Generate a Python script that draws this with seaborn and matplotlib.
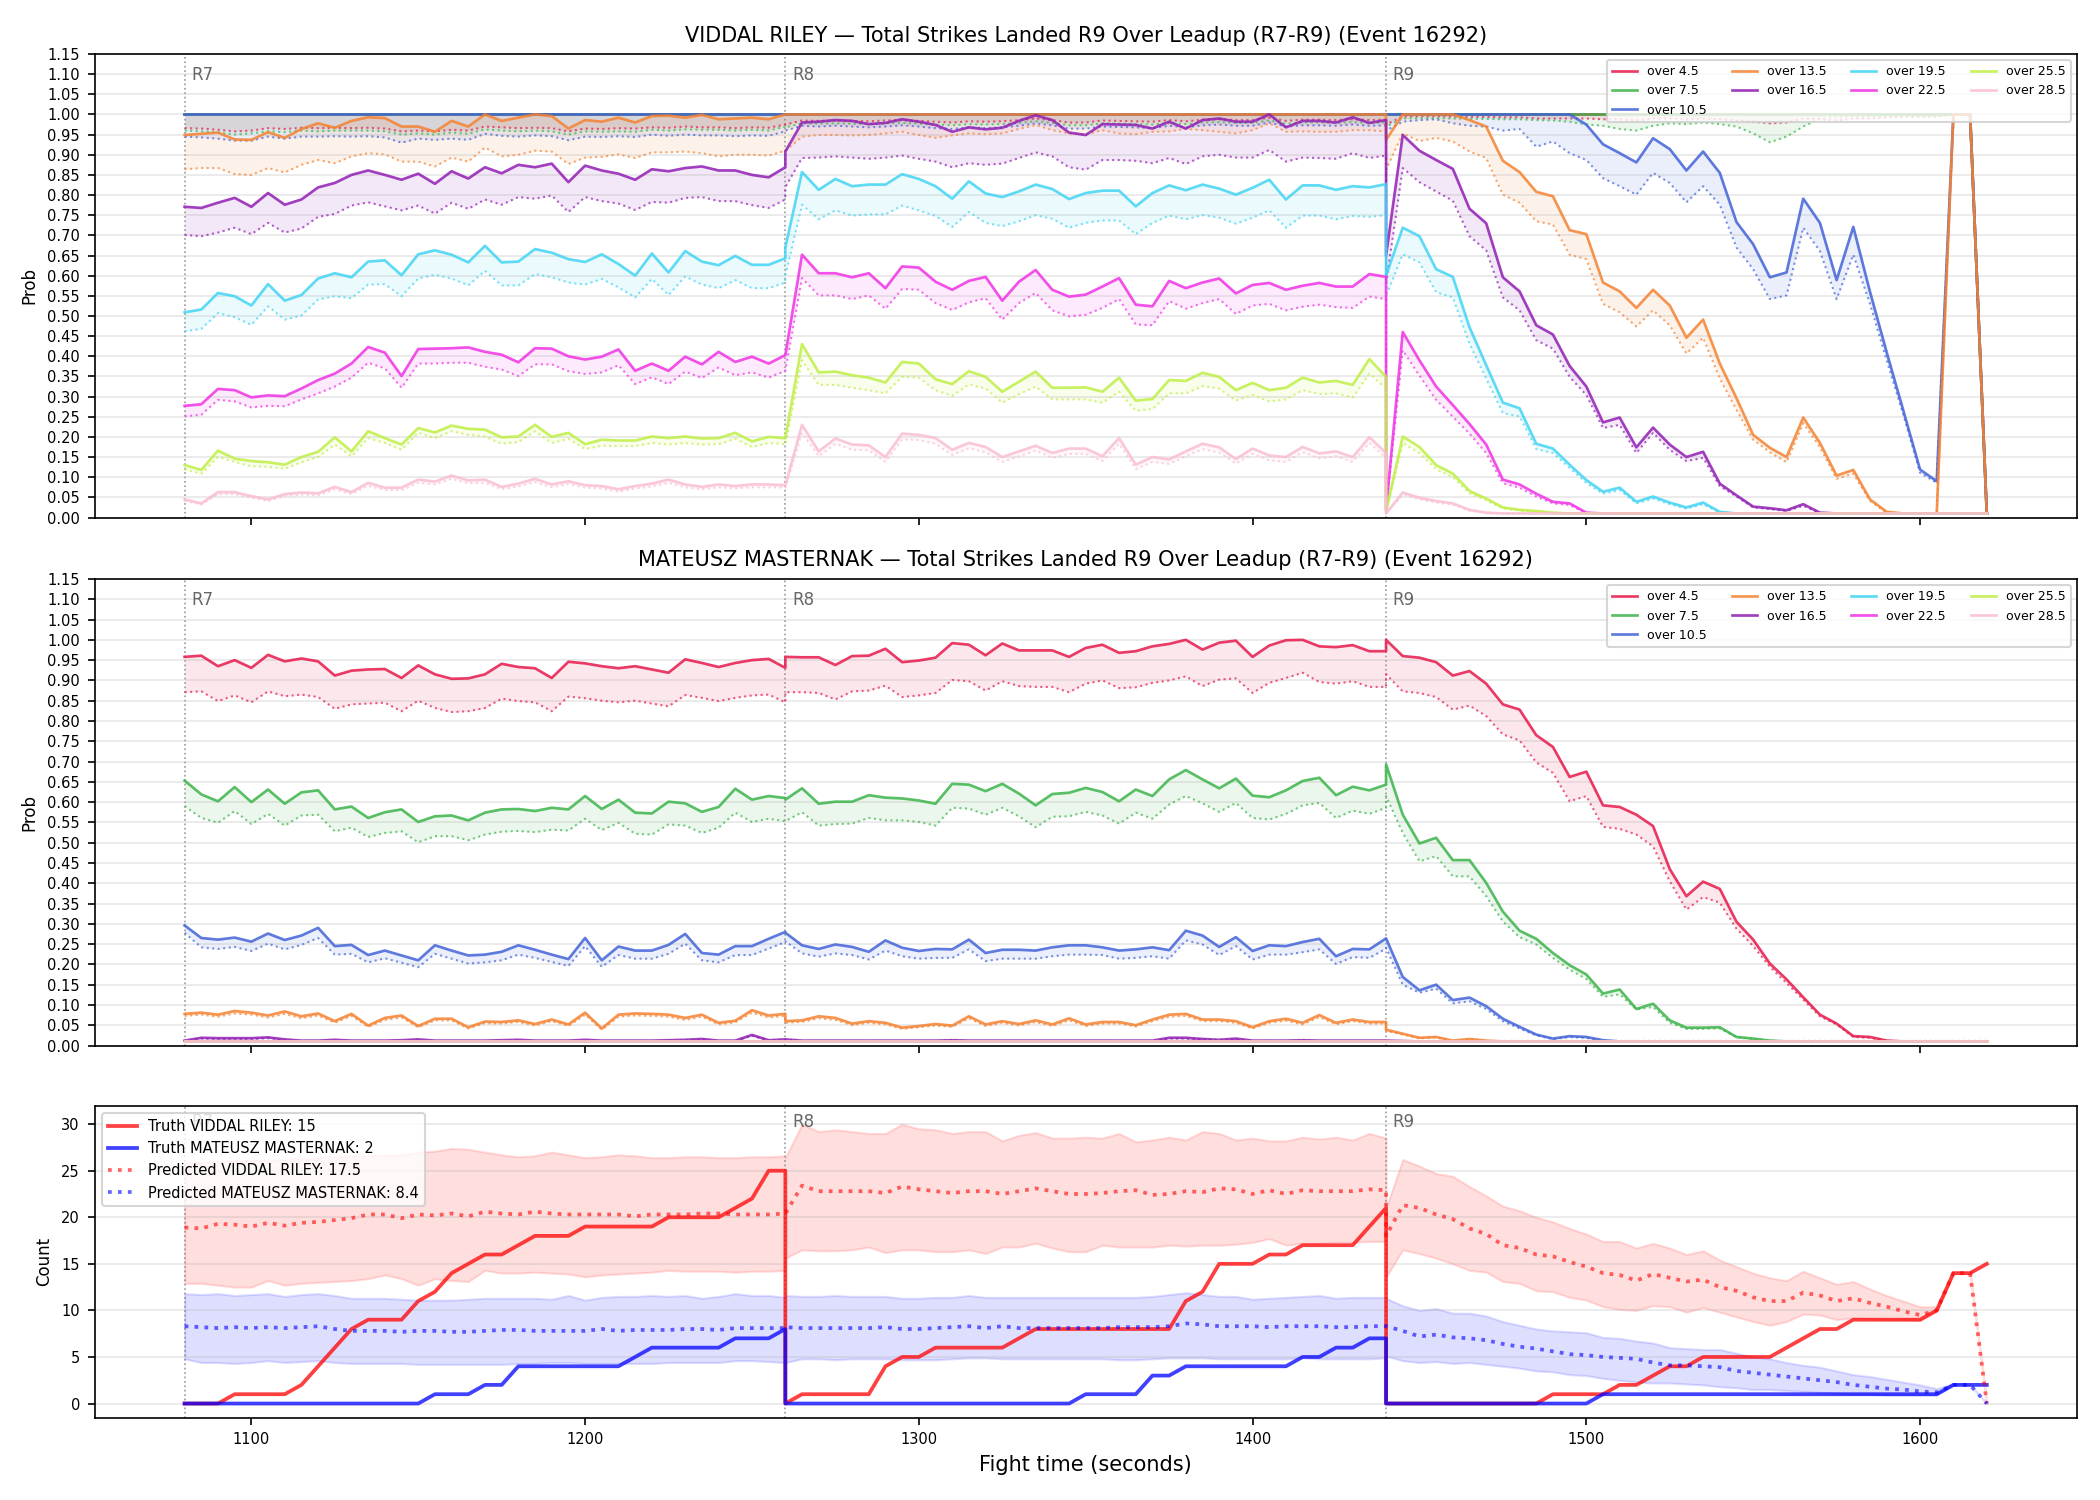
import matplotlib
matplotlib.use('Agg')
import numpy as np
import matplotlib.pyplot as plt
import matplotlib.transforms as mtransforms
import seaborn as sns

# time axis: rounds 7-9, a reading every 5 s of the round clock
rounds = [7, 8, 9]
round_clock = list(range(0, 181, 5))
fight_time = [(r - 1) * 180 + c for r in rounds for c in round_clock]

thresholds = ['over 4.5', 'over 7.5', 'over 10.5', 'over 13.5', 'over 16.5',
              'over 19.5', 'over 22.5', 'over 25.5', 'over 28.5']
line_colors = ['#e6194b', '#3cb44b', '#4363d8', '#f58231', '#911eb4',
               '#42d4f4', '#f032e6', '#bfef45', '#fabed4']

# ---------------- VIDDAL RILEY: solid = market, dotted = model ----------------
riley_45 = [1.0] * 37 + [1.0] * 37 + [1.0] * 36 + [0.01]
riley_45_dot = [
    0.966, 0.965, 0.962, 0.958, 0.960, 0.966, 0.964, 0.967, 0.966, 0.967, 0.966, 0.967, 0.965, 0.958, 0.960, 0.958, 0.962, 0.960, 0.970,
    0.968, 0.966, 0.967, 0.966, 0.958, 0.965, 0.964, 0.966, 0.965, 0.968, 0.967, 0.970, 0.968, 0.968, 0.966, 0.968, 0.967, 0.975,
    0.975, 0.985, 0.984, 0.985, 0.984, 0.983, 0.985, 0.986, 0.984, 0.982, 0.980, 0.983, 0.982, 0.983, 0.986, 0.990, 0.986, 0.980, 0.980,
    0.985, 0.984, 0.983, 0.982, 0.986, 0.983, 0.987, 0.988, 0.986, 0.986, 0.992, 0.984, 0.987, 0.987, 0.986, 0.988, 0.986, 0.987,
    0.975, 0.995, 0.996, 0.996, 0.995, 0.994, 0.994, 0.993, 0.993, 0.990, 0.990, 0.990, 0.990, 0.988, 0.988, 0.985, 0.990, 0.990, 0.988,
    0.990, 0.988, 0.985, 0.982, 0.978, 0.980, 0.990, 0.988, 0.985, 0.990, 0.990, 0.992, 0.995, 0.995, 0.995, 1.0, 1.0, 0.01]
riley_75 = [1.0] * 37 + [1.0] * 37 + [1.0] * 36 + [0.01]
riley_75_dot = [
    0.960, 0.958, 0.955, 0.950, 0.953, 0.958, 0.956, 0.960, 0.958, 0.960, 0.960, 0.960, 0.958, 0.950, 0.953, 0.950, 0.955, 0.952, 0.963,
    0.960, 0.958, 0.960, 0.958, 0.950, 0.958, 0.957, 0.958, 0.957, 0.962, 0.960, 0.963, 0.962, 0.962, 0.960, 0.962, 0.960, 0.970,
    0.968, 0.978, 0.977, 0.978, 0.977, 0.976, 0.978, 0.979, 0.977, 0.975, 0.973, 0.976, 0.975, 0.976, 0.979, 0.983, 0.979, 0.973, 0.973,
    0.978, 0.977, 0.976, 0.975, 0.979, 0.976, 0.980, 0.981, 0.979, 0.979, 0.985, 0.977, 0.980, 0.980, 0.979, 0.981, 0.979, 0.980,
    0.970, 0.990, 0.991, 0.991, 0.990, 0.989, 0.989, 0.988, 0.988, 0.986, 0.985, 0.982, 0.975, 0.972, 0.964, 0.960, 0.972, 0.978, 0.976,
    0.980, 0.976, 0.970, 0.953, 0.931, 0.945, 0.970, 0.990, 0.995, 0.995, 0.995, 0.995, 0.995, 0.995, 0.995, 1.0, 1.0, 0.01]
riley_105 = [1.0] * 37 + [1.0] * 37 + [
    1.0, 1.0, 1.0, 1.0, 1.0, 1.0, 1.0, 1.0, 1.0, 1.0, 1.0, 1.0, 0.975, 0.926, 0.904, 0.881, 0.941, 0.914, 0.861,
    0.908, 0.855, 0.733, 0.678, 0.596, 0.608, 0.791, 0.731, 0.589, 0.721, 0.560, 0.410, 0.265, 0.119, 0.090, 1.0, 1.0, 0.01]
riley_105_dot = [
    0.945, 0.943, 0.940, 0.935, 0.935, 0.945, 0.940, 0.945, 0.945, 0.946, 0.945, 0.946, 0.943, 0.930, 0.940, 0.937, 0.940, 0.937, 0.952,
    0.947, 0.945, 0.948, 0.946, 0.936, 0.945, 0.944, 0.946, 0.944, 0.950, 0.947, 0.950, 0.948, 0.948, 0.946, 0.948, 0.947, 0.958,
    0.960, 0.972, 0.970, 0.972, 0.970, 0.968, 0.970, 0.973, 0.970, 0.966, 0.964, 0.968, 0.966, 0.968, 0.972, 0.978, 0.973, 0.965, 0.965,
    0.970, 0.969, 0.968, 0.966, 0.972, 0.968, 0.973, 0.975, 0.972, 0.972, 0.980, 0.970, 0.973, 0.973, 0.972, 0.975, 0.972, 0.973,
    0.960, 0.982, 0.986, 0.988, 0.978, 0.972, 0.970, 0.960, 0.964, 0.920, 0.933, 0.904, 0.887, 0.842, 0.822, 0.801, 0.855, 0.830, 0.782,
    0.822, 0.776, 0.670, 0.616, 0.542, 0.551, 0.719, 0.661, 0.542, 0.652, 0.530, 0.390, 0.255, 0.111, 0.086, 1.0, 1.0, 0.01]
riley_135 = [
    0.949, 0.952, 0.955, 0.938, 0.937, 0.956, 0.942, 0.964, 0.978, 0.967, 0.984, 0.993, 0.991, 0.970, 0.970, 0.957, 0.984, 0.970, 1.0,
    0.984, 0.992, 1.0, 0.996, 0.965, 0.986, 0.982, 0.992, 0.980, 0.996, 0.997, 0.992, 0.999, 0.988, 0.990, 0.992, 0.988, 1.0] + [1.0] * 37 + [
    0.937, 1.0, 1.0, 1.0, 1.0, 0.986, 0.970, 0.885, 0.857, 0.808, 0.797, 0.713, 0.703, 0.583, 0.561, 0.520, 0.565, 0.526, 0.446,
    0.491, 0.382, 0.296, 0.205, 0.173, 0.150, 0.248, 0.185, 0.104, 0.118, 0.045, 0.014, 0.010, 0.010, 0.010, 1.0, 1.0, 0.01]
riley_135_dot = [
    0.864, 0.867, 0.867, 0.852, 0.850, 0.867, 0.856, 0.875, 0.887, 0.879, 0.896, 0.904, 0.901, 0.883, 0.883, 0.871, 0.893, 0.883, 0.918,
    0.896, 0.900, 0.910, 0.908, 0.877, 0.893, 0.895, 0.901, 0.892, 0.906, 0.906, 0.908, 0.904, 0.896, 0.900, 0.900, 0.898, 0.910,
    0.910, 0.945, 0.949, 0.949, 0.948, 0.949, 0.953, 0.957, 0.949, 0.942, 0.948, 0.953, 0.951, 0.953, 0.964, 0.974, 0.961, 0.953, 0.951,
    0.961, 0.953, 0.951, 0.957, 0.958, 0.964, 0.961, 0.957, 0.953, 0.961, 0.978, 0.957, 0.958, 0.957, 0.957, 0.961, 0.961, 0.958,
    0.863, 0.953, 0.934, 0.942, 0.933, 0.908, 0.892, 0.801, 0.781, 0.735, 0.727, 0.652, 0.641, 0.530, 0.509, 0.474, 0.514, 0.477, 0.407,
    0.446, 0.345, 0.267, 0.193, 0.162, 0.137, 0.234, 0.174, 0.096, 0.109, 0.041, 0.012, 0.010, 0.010, 0.010, 1.0, 1.0, 0.01]
riley_165 = [
    0.771, 0.768, 0.781, 0.793, 0.771, 0.805, 0.776, 0.789, 0.819, 0.830, 0.850, 0.861, 0.850, 0.838, 0.853, 0.828, 0.859, 0.841, 0.869,
    0.854, 0.875, 0.869, 0.878, 0.832, 0.873, 0.861, 0.853, 0.838, 0.864, 0.859, 0.867, 0.871, 0.861, 0.861, 0.850, 0.844, 0.869,
    0.908, 0.980, 0.982, 0.986, 0.984, 0.976, 0.979, 0.988, 0.982, 0.974, 0.957, 0.968, 0.963, 0.967, 0.984, 0.998, 0.986, 0.955, 0.949,
    0.976, 0.975, 0.974, 0.965, 0.982, 0.965, 0.986, 0.990, 0.982, 0.982, 1.0, 0.968, 0.984, 0.984, 0.980, 0.993, 0.979, 0.986,
    0.650, 0.949, 0.910, 0.887, 0.865, 0.766, 0.730, 0.596, 0.561, 0.477, 0.454, 0.376, 0.325, 0.236, 0.248, 0.174, 0.223, 0.181, 0.150,
    0.163, 0.084, 0.055, 0.027, 0.023, 0.018, 0.033, 0.012, 0.010, 0.010, 0.010, 0.010, 0.010, 0.010, 0.010, 0.010, 0.010, 0.010]
riley_165_dot = [
    0.701, 0.698, 0.707, 0.719, 0.703, 0.731, 0.707, 0.717, 0.746, 0.753, 0.774, 0.782, 0.772, 0.762, 0.774, 0.754, 0.781, 0.766, 0.789,
    0.776, 0.795, 0.791, 0.799, 0.758, 0.795, 0.785, 0.779, 0.763, 0.783, 0.781, 0.793, 0.795, 0.785, 0.785, 0.775, 0.768, 0.789,
    0.820, 0.892, 0.893, 0.896, 0.893, 0.890, 0.893, 0.898, 0.890, 0.883, 0.869, 0.879, 0.875, 0.878, 0.892, 0.906, 0.896, 0.869, 0.863,
    0.887, 0.887, 0.885, 0.879, 0.892, 0.877, 0.896, 0.900, 0.893, 0.893, 0.912, 0.883, 0.893, 0.892, 0.890, 0.904, 0.892, 0.898,
    0.580, 0.867, 0.832, 0.809, 0.786, 0.698, 0.663, 0.546, 0.514, 0.440, 0.419, 0.349, 0.304, 0.222, 0.230, 0.160, 0.210, 0.168, 0.140,
    0.148, 0.078, 0.052, 0.025, 0.021, 0.016, 0.029, 0.011, 0.010, 0.010, 0.010, 0.010, 0.010, 0.010, 0.010, 0.010, 0.010, 0.010]
riley_195 = [
    0.509, 0.516, 0.557, 0.549, 0.526, 0.579, 0.538, 0.552, 0.593, 0.606, 0.596, 0.635, 0.638, 0.601, 0.653, 0.663, 0.652, 0.633, 0.674,
    0.633, 0.635, 0.666, 0.657, 0.641, 0.634, 0.653, 0.629, 0.600, 0.655, 0.608, 0.661, 0.635, 0.626, 0.649, 0.627, 0.627, 0.643,
    0.670, 0.857, 0.813, 0.840, 0.822, 0.826, 0.826, 0.852, 0.840, 0.822, 0.791, 0.834, 0.804, 0.795, 0.809, 0.826, 0.815, 0.790, 0.805,
    0.811, 0.811, 0.772, 0.805, 0.824, 0.812, 0.826, 0.816, 0.801, 0.818, 0.838, 0.789, 0.824, 0.824, 0.813, 0.822, 0.819, 0.827,
    0.600, 0.719, 0.698, 0.616, 0.597, 0.472, 0.378, 0.285, 0.271, 0.183, 0.171, 0.131, 0.093, 0.064, 0.074, 0.039, 0.052, 0.037, 0.025,
    0.037, 0.014, 0.010, 0.010, 0.010, 0.010, 0.010, 0.010, 0.010, 0.010, 0.010, 0.010, 0.010, 0.010, 0.010, 0.010, 0.010, 0.010]
riley_195_dot = [
    0.462, 0.468, 0.507, 0.497, 0.478, 0.524, 0.491, 0.501, 0.541, 0.549, 0.544, 0.578, 0.579, 0.549, 0.593, 0.602, 0.593, 0.576, 0.612,
    0.576, 0.576, 0.604, 0.596, 0.583, 0.578, 0.592, 0.571, 0.546, 0.592, 0.552, 0.598, 0.578, 0.569, 0.589, 0.569, 0.569, 0.583,
    0.600, 0.776, 0.740, 0.762, 0.749, 0.752, 0.752, 0.774, 0.762, 0.748, 0.721, 0.758, 0.731, 0.723, 0.735, 0.750, 0.741, 0.719, 0.731,
    0.737, 0.737, 0.703, 0.731, 0.749, 0.740, 0.750, 0.744, 0.729, 0.744, 0.762, 0.719, 0.749, 0.749, 0.740, 0.748, 0.746, 0.750,
    0.550, 0.653, 0.633, 0.559, 0.546, 0.431, 0.345, 0.259, 0.251, 0.170, 0.160, 0.123, 0.086, 0.059, 0.068, 0.035, 0.047, 0.033, 0.022,
    0.033, 0.012, 0.010, 0.010, 0.010, 0.010, 0.010, 0.010, 0.010, 0.010, 0.010, 0.010, 0.010, 0.010, 0.010, 0.010, 0.010, 0.010]
riley_225 = [
    0.277, 0.281, 0.319, 0.316, 0.298, 0.303, 0.301, 0.320, 0.341, 0.357, 0.382, 0.423, 0.409, 0.351, 0.418, 0.419, 0.420, 0.422, 0.411,
    0.404, 0.385, 0.420, 0.419, 0.400, 0.392, 0.399, 0.417, 0.364, 0.382, 0.364, 0.399, 0.380, 0.411, 0.386, 0.399, 0.382, 0.403,
    0.403, 0.652, 0.606, 0.606, 0.596, 0.606, 0.569, 0.623, 0.620, 0.585, 0.565, 0.587, 0.597, 0.538, 0.585, 0.614, 0.565, 0.548, 0.553,
    0.573, 0.594, 0.528, 0.524, 0.587, 0.569, 0.583, 0.593, 0.556, 0.577, 0.582, 0.565, 0.575, 0.582, 0.573, 0.573, 0.604, 0.597,
    0.020, 0.460, 0.390, 0.325, 0.279, 0.232, 0.181, 0.094, 0.082, 0.059, 0.039, 0.035, 0.012, 0.010, 0.010, 0.010, 0.010, 0.010, 0.010,
    0.010, 0.010, 0.010, 0.010, 0.010, 0.010, 0.010, 0.010, 0.010, 0.010, 0.010, 0.010, 0.010, 0.010, 0.010, 0.010, 0.010, 0.010]
riley_225_dot = [
    0.251, 0.255, 0.292, 0.288, 0.273, 0.277, 0.276, 0.293, 0.308, 0.325, 0.347, 0.384, 0.370, 0.322, 0.382, 0.382, 0.384, 0.384, 0.374,
    0.367, 0.351, 0.380, 0.380, 0.363, 0.356, 0.360, 0.378, 0.331, 0.348, 0.331, 0.362, 0.346, 0.372, 0.353, 0.360, 0.347, 0.364,
    0.364, 0.594, 0.551, 0.551, 0.542, 0.551, 0.518, 0.567, 0.565, 0.532, 0.515, 0.534, 0.544, 0.491, 0.532, 0.557, 0.514, 0.499, 0.503,
    0.520, 0.542, 0.479, 0.477, 0.537, 0.518, 0.532, 0.542, 0.505, 0.526, 0.530, 0.514, 0.523, 0.528, 0.522, 0.520, 0.548, 0.542,
    0.018, 0.415, 0.352, 0.292, 0.250, 0.208, 0.160, 0.085, 0.074, 0.052, 0.035, 0.031, 0.011, 0.010, 0.010, 0.010, 0.010, 0.010, 0.010,
    0.010, 0.010, 0.010, 0.010, 0.010, 0.010, 0.010, 0.010, 0.010, 0.010, 0.010, 0.010, 0.010, 0.010, 0.010, 0.010, 0.010, 0.010]
riley_255 = [
    0.130, 0.118, 0.166, 0.146, 0.140, 0.137, 0.131, 0.150, 0.163, 0.199, 0.164, 0.214, 0.197, 0.181, 0.222, 0.211, 0.228, 0.220, 0.218,
    0.199, 0.201, 0.230, 0.200, 0.210, 0.182, 0.193, 0.191, 0.191, 0.201, 0.197, 0.201, 0.196, 0.197, 0.210, 0.189, 0.200, 0.197,
    0.197, 0.430, 0.360, 0.362, 0.353, 0.347, 0.335, 0.386, 0.382, 0.343, 0.331, 0.363, 0.349, 0.312, 0.337, 0.362, 0.322, 0.322, 0.323,
    0.312, 0.347, 0.290, 0.294, 0.341, 0.339, 0.359, 0.349, 0.316, 0.334, 0.316, 0.322, 0.347, 0.335, 0.339, 0.329, 0.393, 0.349,
    0.015, 0.201, 0.175, 0.130, 0.109, 0.066, 0.047, 0.025, 0.019, 0.016, 0.012, 0.010, 0.010, 0.010, 0.010, 0.010, 0.010, 0.010, 0.010,
    0.010, 0.010, 0.010, 0.010, 0.010, 0.010, 0.010, 0.010, 0.010, 0.010, 0.010, 0.010, 0.010, 0.010, 0.010, 0.010, 0.010, 0.010]
riley_255_dot = [
    0.119, 0.109, 0.150, 0.138, 0.127, 0.126, 0.121, 0.137, 0.150, 0.181, 0.152, 0.197, 0.185, 0.168, 0.210, 0.197, 0.214, 0.205, 0.201,
    0.183, 0.187, 0.214, 0.185, 0.195, 0.170, 0.178, 0.177, 0.177, 0.185, 0.181, 0.185, 0.181, 0.182, 0.195, 0.175, 0.185, 0.182,
    0.181, 0.390, 0.329, 0.329, 0.322, 0.316, 0.308, 0.349, 0.347, 0.316, 0.302, 0.330, 0.320, 0.285, 0.306, 0.325, 0.293, 0.293, 0.293,
    0.285, 0.312, 0.265, 0.269, 0.308, 0.308, 0.326, 0.320, 0.290, 0.304, 0.288, 0.293, 0.316, 0.306, 0.308, 0.298, 0.357, 0.320,
    0.013, 0.185, 0.160, 0.120, 0.100, 0.060, 0.043, 0.022, 0.017, 0.014, 0.011, 0.010, 0.010, 0.010, 0.010, 0.010, 0.010, 0.010, 0.010,
    0.010, 0.010, 0.010, 0.010, 0.010, 0.010, 0.010, 0.010, 0.010, 0.010, 0.010, 0.010, 0.010, 0.010, 0.010, 0.010, 0.010, 0.010]
riley_285 = [
    0.045, 0.035, 0.063, 0.063, 0.053, 0.045, 0.058, 0.062, 0.060, 0.076, 0.063, 0.086, 0.074, 0.074, 0.094, 0.089, 0.104, 0.092, 0.094,
    0.076, 0.084, 0.096, 0.082, 0.090, 0.080, 0.078, 0.070, 0.078, 0.084, 0.094, 0.082, 0.076, 0.082, 0.078, 0.082, 0.082, 0.080,
    0.080, 0.230, 0.164, 0.196, 0.181, 0.179, 0.150, 0.208, 0.205, 0.197, 0.168, 0.185, 0.175, 0.150, 0.164, 0.178, 0.160, 0.171, 0.171,
    0.152, 0.197, 0.131, 0.150, 0.144, 0.164, 0.183, 0.174, 0.145, 0.171, 0.154, 0.150, 0.175, 0.159, 0.164, 0.150, 0.199, 0.160,
    0.010, 0.062, 0.049, 0.041, 0.035, 0.019, 0.012, 0.010, 0.010, 0.010, 0.010, 0.010, 0.010, 0.010, 0.010, 0.010, 0.010, 0.010, 0.010,
    0.010, 0.010, 0.010, 0.010, 0.010, 0.010, 0.010, 0.010, 0.010, 0.010, 0.010, 0.010, 0.010, 0.010, 0.010, 0.010, 0.010, 0.010]
riley_285_dot = [
    0.041, 0.032, 0.058, 0.058, 0.049, 0.041, 0.053, 0.057, 0.055, 0.070, 0.058, 0.079, 0.068, 0.068, 0.086, 0.082, 0.096, 0.085, 0.086,
    0.070, 0.077, 0.088, 0.075, 0.083, 0.074, 0.072, 0.064, 0.072, 0.077, 0.086, 0.075, 0.070, 0.075, 0.072, 0.075, 0.075, 0.074,
    0.074, 0.210, 0.152, 0.183, 0.168, 0.167, 0.138, 0.194, 0.192, 0.183, 0.155, 0.172, 0.162, 0.138, 0.152, 0.166, 0.148, 0.158, 0.158,
    0.140, 0.183, 0.120, 0.138, 0.133, 0.152, 0.170, 0.161, 0.134, 0.158, 0.142, 0.138, 0.162, 0.147, 0.152, 0.138, 0.185, 0.148,
    0.010, 0.057, 0.045, 0.037, 0.032, 0.017, 0.011, 0.010, 0.010, 0.010, 0.010, 0.010, 0.010, 0.010, 0.010, 0.010, 0.010, 0.010, 0.010,
    0.010, 0.010, 0.010, 0.010, 0.010, 0.010, 0.010, 0.010, 0.010, 0.010, 0.010, 0.010, 0.010, 0.010, 0.010, 0.010, 0.010, 0.010]

# ---------------- MATEUSZ MASTERNAK ----------------
mast_45 = [
    0.958, 0.961, 0.935, 0.950, 0.931, 0.963, 0.947, 0.954, 0.947, 0.912, 0.924, 0.927, 0.928, 0.906, 0.937, 0.915, 0.904, 0.905, 0.915,
    0.941, 0.933, 0.930, 0.906, 0.946, 0.942, 0.935, 0.930, 0.935, 0.927, 0.919, 0.952, 0.943, 0.933, 0.943, 0.950, 0.953, 0.931,
    0.958, 0.957, 0.957, 0.938, 0.960, 0.961, 0.978, 0.945, 0.949, 0.956, 0.992, 0.988, 0.962, 0.991, 0.974, 0.974, 0.974, 0.958, 0.980,
    0.988, 0.968, 0.972, 0.984, 0.990, 1.0, 0.976, 0.993, 0.998, 0.958, 0.986, 0.999, 1.0, 0.984, 0.982, 0.987, 0.972, 0.972,
    1.0, 0.960, 0.956, 0.945, 0.912, 0.923, 0.892, 0.841, 0.828, 0.765, 0.736, 0.662, 0.675, 0.592, 0.588, 0.569, 0.541, 0.435, 0.368,
    0.404, 0.386, 0.305, 0.261, 0.202, 0.163, 0.119, 0.076, 0.054, 0.023, 0.021, 0.012, 0.010, 0.010, 0.010, 0.010, 0.010, 0.010]
mast_45_dot = [
    0.871, 0.873, 0.849, 0.863, 0.846, 0.873, 0.861, 0.865, 0.859, 0.830, 0.841, 0.843, 0.845, 0.824, 0.850, 0.832, 0.822, 0.824, 0.832,
    0.855, 0.849, 0.846, 0.824, 0.860, 0.856, 0.850, 0.846, 0.850, 0.843, 0.836, 0.864, 0.857, 0.849, 0.857, 0.863, 0.865, 0.846,
    0.871, 0.871, 0.869, 0.853, 0.873, 0.875, 0.887, 0.859, 0.863, 0.869, 0.901, 0.898, 0.875, 0.898, 0.886, 0.884, 0.884, 0.871, 0.892,
    0.900, 0.881, 0.883, 0.894, 0.900, 0.910, 0.886, 0.902, 0.905, 0.869, 0.894, 0.906, 0.919, 0.896, 0.892, 0.898, 0.884, 0.884,
    0.915, 0.873, 0.869, 0.859, 0.828, 0.838, 0.812, 0.767, 0.752, 0.698, 0.672, 0.602, 0.615, 0.539, 0.534, 0.520, 0.491, 0.405, 0.335,
    0.366, 0.352, 0.288, 0.245, 0.194, 0.154, 0.113, 0.072, 0.052, 0.021, 0.019, 0.012, 0.010, 0.010, 0.010, 0.010, 0.010, 0.010]
mast_75 = [
    0.653, 0.619, 0.602, 0.637, 0.600, 0.631, 0.596, 0.624, 0.629, 0.582, 0.589, 0.561, 0.575, 0.582, 0.551, 0.565, 0.567, 0.555, 0.574,
    0.582, 0.583, 0.578, 0.586, 0.582, 0.615, 0.583, 0.606, 0.574, 0.572, 0.601, 0.597, 0.576, 0.588, 0.633, 0.606, 0.615, 0.610,
    0.606, 0.634, 0.596, 0.601, 0.601, 0.617, 0.611, 0.609, 0.604, 0.596, 0.645, 0.643, 0.627, 0.645, 0.621, 0.592, 0.620, 0.623, 0.635,
    0.625, 0.602, 0.631, 0.615, 0.656, 0.679, 0.656, 0.634, 0.658, 0.616, 0.612, 0.629, 0.652, 0.660, 0.617, 0.638, 0.629, 0.643,
    0.693, 0.569, 0.498, 0.512, 0.457, 0.457, 0.401, 0.330, 0.283, 0.263, 0.228, 0.198, 0.175, 0.128, 0.138, 0.090, 0.103, 0.062, 0.044,
    0.044, 0.045, 0.021, 0.017, 0.012, 0.010, 0.010, 0.010, 0.010, 0.010, 0.010, 0.010, 0.010, 0.010, 0.010, 0.010, 0.010, 0.010]
mast_75_dot = [
    0.590, 0.561, 0.549, 0.578, 0.546, 0.571, 0.542, 0.567, 0.569, 0.528, 0.537, 0.514, 0.524, 0.528, 0.501, 0.516, 0.516, 0.506, 0.520,
    0.527, 0.529, 0.526, 0.532, 0.530, 0.559, 0.531, 0.549, 0.522, 0.520, 0.545, 0.542, 0.524, 0.537, 0.574, 0.551, 0.559, 0.553,
    0.553, 0.575, 0.542, 0.546, 0.547, 0.561, 0.555, 0.555, 0.551, 0.542, 0.586, 0.584, 0.569, 0.586, 0.565, 0.538, 0.564, 0.565, 0.576,
    0.567, 0.547, 0.574, 0.559, 0.594, 0.615, 0.597, 0.576, 0.598, 0.561, 0.557, 0.571, 0.592, 0.598, 0.561, 0.579, 0.571, 0.586,
    0.615, 0.524, 0.454, 0.467, 0.417, 0.417, 0.368, 0.306, 0.267, 0.249, 0.216, 0.187, 0.164, 0.120, 0.126, 0.089, 0.095, 0.056, 0.041,
    0.041, 0.042, 0.021, 0.016, 0.012, 0.010, 0.010, 0.010, 0.010, 0.010, 0.010, 0.010, 0.010, 0.010, 0.010, 0.010, 0.010, 0.010]
mast_105 = [
    0.296, 0.265, 0.261, 0.266, 0.256, 0.276, 0.260, 0.271, 0.290, 0.245, 0.248, 0.223, 0.234, 0.222, 0.210, 0.247, 0.234, 0.222, 0.224,
    0.231, 0.247, 0.236, 0.224, 0.213, 0.265, 0.210, 0.244, 0.234, 0.234, 0.248, 0.275, 0.228, 0.224, 0.245, 0.245, 0.263, 0.280,
    0.278, 0.247, 0.238, 0.249, 0.243, 0.231, 0.259, 0.241, 0.233, 0.238, 0.237, 0.261, 0.228, 0.236, 0.236, 0.234, 0.242, 0.247, 0.247,
    0.242, 0.234, 0.237, 0.242, 0.235, 0.283, 0.271, 0.243, 0.267, 0.233, 0.247, 0.245, 0.255, 0.263, 0.220, 0.238, 0.237, 0.264,
    0.264, 0.169, 0.136, 0.150, 0.112, 0.118, 0.097, 0.066, 0.046, 0.027, 0.017, 0.023, 0.021, 0.013, 0.010, 0.010, 0.010, 0.010, 0.010,
    0.010, 0.010, 0.010, 0.010, 0.010, 0.010, 0.010, 0.010, 0.010, 0.010, 0.010, 0.010, 0.010, 0.010, 0.010, 0.010, 0.010, 0.010]
mast_105_dot = [
    0.278, 0.242, 0.238, 0.243, 0.233, 0.251, 0.237, 0.248, 0.265, 0.224, 0.226, 0.205, 0.215, 0.204, 0.193, 0.226, 0.214, 0.202, 0.205,
    0.210, 0.224, 0.216, 0.206, 0.196, 0.245, 0.194, 0.223, 0.214, 0.214, 0.226, 0.251, 0.210, 0.205, 0.223, 0.223, 0.239, 0.255,
    0.257, 0.227, 0.219, 0.227, 0.223, 0.212, 0.234, 0.220, 0.214, 0.216, 0.216, 0.237, 0.208, 0.214, 0.214, 0.214, 0.220, 0.224, 0.224,
    0.223, 0.214, 0.216, 0.220, 0.214, 0.259, 0.249, 0.223, 0.245, 0.212, 0.224, 0.224, 0.230, 0.237, 0.201, 0.218, 0.216, 0.239,
    0.241, 0.150, 0.130, 0.140, 0.104, 0.109, 0.090, 0.060, 0.042, 0.025, 0.016, 0.021, 0.019, 0.012, 0.010, 0.010, 0.010, 0.010, 0.010,
    0.010, 0.010, 0.010, 0.010, 0.010, 0.010, 0.010, 0.010, 0.010, 0.010, 0.010, 0.010, 0.010, 0.010, 0.010, 0.010, 0.010, 0.010]
mast_135 = [
    0.078, 0.081, 0.076, 0.085, 0.081, 0.074, 0.084, 0.072, 0.079, 0.060, 0.078, 0.049, 0.068, 0.074, 0.048, 0.066, 0.066, 0.045, 0.059,
    0.058, 0.062, 0.053, 0.064, 0.052, 0.081, 0.042, 0.076, 0.079, 0.078, 0.076, 0.068, 0.076, 0.056, 0.061, 0.087, 0.074, 0.078,
    0.060, 0.062, 0.072, 0.068, 0.054, 0.060, 0.056, 0.044, 0.048, 0.053, 0.049, 0.072, 0.052, 0.060, 0.053, 0.062, 0.052, 0.067, 0.052,
    0.058, 0.058, 0.050, 0.064, 0.076, 0.078, 0.064, 0.064, 0.060, 0.045, 0.060, 0.066, 0.056, 0.075, 0.056, 0.064, 0.058, 0.058,
    0.039, 0.029, 0.019, 0.021, 0.012, 0.016, 0.012, 0.010, 0.010, 0.010, 0.010, 0.010, 0.010, 0.010, 0.010, 0.010, 0.010, 0.010, 0.010,
    0.010, 0.010, 0.010, 0.010, 0.010, 0.010, 0.010, 0.010, 0.010, 0.010, 0.010, 0.010, 0.010, 0.010, 0.010, 0.010, 0.010, 0.010]
mast_135_dot = [
    0.073, 0.076, 0.071, 0.079, 0.076, 0.069, 0.078, 0.067, 0.074, 0.056, 0.073, 0.046, 0.063, 0.069, 0.045, 0.062, 0.062, 0.042, 0.055,
    0.054, 0.058, 0.049, 0.060, 0.048, 0.076, 0.039, 0.071, 0.074, 0.073, 0.071, 0.063, 0.071, 0.052, 0.057, 0.081, 0.069, 0.073,
    0.056, 0.058, 0.067, 0.063, 0.050, 0.056, 0.052, 0.041, 0.045, 0.049, 0.046, 0.067, 0.048, 0.056, 0.049, 0.058, 0.048, 0.062, 0.048,
    0.054, 0.054, 0.047, 0.060, 0.071, 0.073, 0.060, 0.060, 0.056, 0.042, 0.056, 0.061, 0.052, 0.070, 0.052, 0.060, 0.054, 0.054,
    0.036, 0.027, 0.018, 0.020, 0.011, 0.015, 0.011, 0.010, 0.010, 0.010, 0.010, 0.010, 0.010, 0.010, 0.010, 0.010, 0.010, 0.010, 0.010,
    0.010, 0.010, 0.010, 0.010, 0.010, 0.010, 0.010, 0.010, 0.010, 0.010, 0.010, 0.010, 0.010, 0.010, 0.010, 0.010, 0.010, 0.010]
mast_165 = [
    0.012, 0.019, 0.018, 0.018, 0.018, 0.020, 0.015, 0.012, 0.012, 0.014, 0.012, 0.012, 0.012, 0.013, 0.015, 0.012, 0.012, 0.012, 0.012,
    0.013, 0.014, 0.012, 0.012, 0.012, 0.014, 0.012, 0.012, 0.012, 0.012, 0.013, 0.014, 0.016, 0.012, 0.012, 0.026, 0.013, 0.015,
    0.015, 0.012, 0.012, 0.012, 0.012, 0.012, 0.012, 0.012, 0.012, 0.012, 0.013, 0.012, 0.012, 0.012, 0.012, 0.012, 0.012, 0.012, 0.012,
    0.012, 0.012, 0.012, 0.012, 0.019, 0.019, 0.016, 0.014, 0.017, 0.012, 0.012, 0.012, 0.013, 0.012, 0.012, 0.012, 0.012, 0.012,
    0.012, 0.011, 0.010, 0.010, 0.010, 0.010, 0.010, 0.010, 0.010, 0.010, 0.010, 0.010, 0.010, 0.010, 0.010, 0.010, 0.010, 0.010, 0.010,
    0.010, 0.010, 0.010, 0.010, 0.010, 0.010, 0.010, 0.010, 0.010, 0.010, 0.010, 0.010, 0.010, 0.010, 0.010, 0.010, 0.010, 0.010]
mast_165_dot = [
    0.011, 0.017, 0.016, 0.016, 0.016, 0.018, 0.014, 0.011, 0.011, 0.013, 0.011, 0.011, 0.011, 0.012, 0.014, 0.011, 0.011, 0.011, 0.011,
    0.012, 0.013, 0.011, 0.011, 0.011, 0.013, 0.011, 0.011, 0.011, 0.011, 0.012, 0.013, 0.015, 0.011, 0.011, 0.024, 0.012, 0.014,
    0.014, 0.011, 0.011, 0.011, 0.011, 0.011, 0.011, 0.011, 0.011, 0.011, 0.012, 0.011, 0.011, 0.011, 0.011, 0.011, 0.011, 0.011, 0.011,
    0.011, 0.011, 0.011, 0.011, 0.017, 0.017, 0.015, 0.013, 0.015, 0.011, 0.011, 0.011, 0.012, 0.011, 0.011, 0.011, 0.011, 0.011,
    0.011, 0.010, 0.010, 0.010, 0.010, 0.010, 0.010, 0.010, 0.010, 0.010, 0.010, 0.010, 0.010, 0.010, 0.010, 0.010, 0.010, 0.010, 0.010,
    0.010, 0.010, 0.010, 0.010, 0.010, 0.010, 0.010, 0.010, 0.010, 0.010, 0.010, 0.010, 0.010, 0.010, 0.010, 0.010, 0.010, 0.010]
# the four highest lines sit on the 0.01 floor for the whole leadup
mast_floor = [0.010] * 111

# ---------------- running strike counts ----------------
riley_truth = [
    0, 0, 0, 1, 1, 1, 1, 2, 4, 6, 8, 9, 9, 9, 11, 12, 14, 15, 16, 16, 17, 18, 18, 18, 19, 19, 19, 19, 19, 20, 20, 20, 20, 21, 22, 25, 25,
    0, 1, 1, 1, 1, 1, 4, 5, 5, 6, 6, 6, 6, 6, 7, 8, 8, 8, 8, 8, 8, 8, 8, 8, 11, 12, 15, 15, 15, 16, 16, 17, 17, 17, 17, 19, 21,
    0, 0, 0, 0, 0, 0, 0, 0, 0, 0, 1, 1, 1, 1, 2, 2, 3, 4, 4, 5, 5, 5, 5, 5, 6, 7, 8, 8, 9, 9, 9, 9, 9, 10, 14, 14, 15]
mast_truth = [
    0, 0, 0, 0, 0, 0, 0, 0, 0, 0, 0, 0, 0, 0, 0, 1, 1, 1, 2, 2, 4, 4, 4, 4, 4, 4, 4, 5, 6, 6, 6, 6, 6, 7, 7, 7, 8,
    0, 0, 0, 0, 0, 0, 0, 0, 0, 0, 0, 0, 0, 0, 0, 0, 0, 0, 1, 1, 1, 1, 3, 3, 4, 4, 4, 4, 4, 4, 4, 5, 5, 6, 6, 7, 7,
    0, 0, 0, 0, 0, 0, 0, 0, 0, 0, 0, 0, 0, 1, 1, 1, 1, 1, 1, 1, 1, 1, 1, 1, 1, 1, 1, 1, 1, 1, 1, 1, 1, 1, 2, 2, 2]
riley_pred = [
    18.9, 18.8, 19.3, 19.2, 19.0, 19.4, 19.1, 19.4, 19.5, 19.7, 19.9, 20.3, 20.3, 19.9, 20.3, 20.2, 20.4, 20.1, 20.6,
    20.4, 20.3, 20.6, 20.4, 20.3, 20.3, 20.3, 20.3, 20.1, 20.3, 20.3, 20.3, 20.4, 20.4, 20.3, 20.3, 20.3, 20.4,
    20.4, 23.4, 22.8, 22.8, 22.8, 22.8, 22.6, 23.3, 23.0, 22.8, 22.6, 22.8, 22.8, 22.5, 22.8, 23.1, 22.8, 22.5, 22.5,
    22.6, 22.8, 22.9, 22.4, 22.5, 22.8, 22.7, 23.1, 23.0, 22.5, 22.9, 22.5, 22.9, 22.8, 22.8, 22.8, 23.0, 22.9,
    18.0, 21.3, 21.0, 20.3, 19.8, 18.8, 18.2, 17.0, 16.7, 16.0, 15.8, 15.2, 14.7, 14.0, 13.8, 13.2, 13.9, 13.5, 13.1,
    13.3, 12.5, 12.1, 11.4, 11.0, 11.0, 11.9, 11.6, 11.0, 11.3, 10.8, 10.4, 9.9, 9.5, 10.0, 14.0, 14.0, 0.0]
riley_low = [
    12.9, 12.9, 12.7, 12.5, 12.5, 13.2, 12.7, 12.9, 13.0, 13.1, 13.2, 13.4, 13.8, 13.4, 12.7, 13.4, 13.2, 13.1, 14.3,
    14.0, 14.0, 14.1, 14.0, 13.9, 13.6, 13.8, 13.9, 14.0, 14.1, 14.3, 14.2, 14.2, 14.2, 14.1, 14.2, 14.2, 14.3,
    15.6, 16.5, 16.4, 16.4, 16.5, 16.8, 16.2, 16.5, 16.5, 16.3, 16.3, 16.5, 16.1, 16.8, 16.8, 17.2, 16.7, 16.3, 16.3,
    17.0, 16.8, 16.8, 16.8, 17.0, 16.9, 17.0, 17.0, 17.1, 17.3, 17.7, 17.0, 17.2, 17.2, 17.3, 17.3, 17.4, 17.4,
    13.6, 16.5, 16.1, 15.6, 15.0, 14.3, 14.1, 13.1, 12.9, 12.1, 12.0, 11.4, 11.1, 10.4, 10.1, 10.0, 10.5, 10.4, 9.8,
    10.3, 9.8, 9.3, 8.8, 8.4, 8.8, 9.6, 9.5, 9.0, 9.2, 9.1, 9.0, 9.0, 8.9, 9.9, 14.0, 14.0, 0.0]
riley_high = [
    25.8, 25.9, 26.0, 26.1, 26.1, 26.2, 26.2, 26.3, 26.4, 26.5, 26.6, 26.6, 26.7, 26.7, 27.0, 27.1, 27.4, 27.3, 27.0,
    26.7, 26.5, 26.6, 27.0, 26.7, 26.4, 26.5, 26.7, 26.6, 26.4, 26.4, 26.5, 26.5, 26.4, 26.4, 26.5, 26.5, 26.6,
    26.4, 30.0, 29.2, 29.4, 29.2, 29.0, 29.0, 30.0, 29.5, 29.4, 29.0, 29.2, 29.2, 28.2, 28.8, 29.1, 28.5, 28.5, 28.6,
    28.5, 29.0, 28.1, 28.3, 28.6, 28.3, 29.2, 29.0, 28.3, 28.5, 28.2, 28.2, 28.6, 28.4, 28.6, 28.3, 29.0, 28.5,
    21.0, 26.2, 25.5, 24.7, 24.4, 23.3, 22.3, 21.2, 20.7, 20.0, 19.5, 18.8, 18.2, 17.4, 17.4, 16.7, 17.2, 16.7, 16.0,
    16.4, 15.4, 14.7, 14.0, 13.5, 13.2, 14.2, 13.5, 12.8, 13.1, 12.3, 11.6, 11.0, 10.4, 10.4, 14.0, 14.0, 0.0]
mast_pred = [
    8.3, 8.2, 8.1, 8.2, 8.1, 8.2, 8.1, 8.2, 8.3, 8.0, 7.8, 7.8, 7.8, 7.7, 7.8, 7.8, 7.7, 7.7, 7.8,
    7.9, 7.9, 7.8, 7.8, 7.8, 7.8, 8.0, 7.8, 7.9, 7.9, 7.9, 8.0, 8.0, 7.9, 8.1, 8.1, 8.1, 8.1,
    8.2, 8.1, 8.1, 8.1, 8.1, 8.1, 8.2, 8.0, 8.0, 8.1, 8.2, 8.3, 8.1, 8.3, 8.1, 8.1, 8.1, 8.1, 8.1,
    8.1, 8.2, 8.2, 8.2, 8.3, 8.6, 8.5, 8.3, 8.3, 8.3, 8.2, 8.3, 8.3, 8.3, 8.2, 8.2, 8.3, 8.3,
    8.3, 7.8, 7.2, 7.4, 7.1, 7.0, 6.8, 6.4, 6.1, 5.9, 5.6, 5.3, 5.2, 5.0, 4.9, 4.8, 4.4, 4.1, 4.1,
    4.0, 3.9, 3.5, 3.3, 3.1, 2.9, 2.7, 2.5, 2.3, 2.0, 1.8, 1.6, 1.5, 1.3, 1.2, 2.0, 2.0, 0.0]
mast_low = [
    4.8, 4.4, 4.4, 4.3, 4.4, 4.6, 4.4, 4.5, 4.6, 4.4, 4.3, 4.3, 4.3, 4.3, 4.2, 4.2, 4.2, 4.2, 4.2,
    4.2, 4.3, 4.3, 4.4, 4.4, 4.3, 4.3, 4.3, 4.3, 4.3, 4.4, 4.4, 4.4, 4.4, 4.6, 4.6, 4.5, 4.4,
    4.4, 4.8, 4.8, 4.7, 4.8, 4.8, 4.8, 4.7, 4.7, 4.7, 4.8, 4.9, 4.9, 4.8, 4.8, 4.8, 4.8, 4.8, 4.8,
    4.8, 4.7, 4.7, 4.8, 4.9, 4.9, 4.9, 4.8, 4.8, 4.8, 4.8, 4.8, 4.9, 4.8, 4.8, 4.8, 4.8, 4.9,
    5.1, 4.6, 4.4, 4.5, 4.3, 4.4, 4.2, 4.0, 3.8, 3.5, 3.4, 3.1, 3.0, 2.7, 2.5, 2.3, 2.2, 2.2, 2.1,
    2.0, 1.8, 1.7, 1.5, 1.5, 1.4, 1.3, 1.2, 1.1, 1.0, 1.0, 0.9, 0.9, 0.9, 0.9, 2.0, 2.0, 0.0]
mast_high = [
    11.8, 11.7, 11.8, 11.6, 11.7, 11.8, 11.5, 11.7, 11.8, 11.6, 11.3, 11.3, 11.3, 11.2, 11.1, 11.1, 11.1, 11.2, 11.3,
    11.3, 11.3, 11.3, 11.2, 11.6, 11.1, 11.4, 11.5, 11.5, 11.6, 11.5, 11.6, 11.3, 11.5, 11.8, 11.6, 11.6, 11.4,
    11.6, 11.5, 11.5, 11.6, 11.5, 11.5, 11.5, 11.3, 11.3, 11.4, 11.4, 11.6, 11.4, 11.4, 11.4, 11.4, 11.4, 11.4, 11.4,
    11.4, 11.4, 11.4, 11.5, 11.7, 11.9, 11.7, 11.5, 11.5, 11.2, 11.3, 11.4, 11.5, 11.6, 11.3, 11.4, 11.4, 11.4,
    11.3, 10.5, 10.0, 10.2, 9.7, 9.7, 9.4, 8.8, 8.4, 8.0, 7.8, 7.7, 7.6, 7.1, 7.0, 6.7, 6.5, 6.0, 5.9,
    5.8, 5.8, 5.4, 5.0, 4.8, 4.4, 4.1, 3.9, 3.5, 3.1, 2.9, 2.6, 2.3, 2.0, 1.6, 2.1, 2.0, 0.0]

riley_solid = [riley_45, riley_75, riley_105, riley_135, riley_165, riley_195, riley_225, riley_255, riley_285]
riley_dotted = [riley_45_dot, riley_75_dot, riley_105_dot, riley_135_dot, riley_165_dot,
                riley_195_dot, riley_225_dot, riley_255_dot, riley_285_dot]
mast_solid = [mast_45, mast_75, mast_105, mast_135, mast_165, mast_floor, mast_floor, mast_floor, mast_floor]
mast_dotted = [mast_45_dot, mast_75_dot, mast_105_dot, mast_135_dot, mast_165_dot,
               mast_floor, mast_floor, mast_floor, mast_floor]


def mark_rounds(ax):
    trans = mtransforms.blended_transform_factory(ax.transData, ax.transAxes)
    for r in rounds:
        t0 = (r - 1) * 180
        ax.axvline(t0, color='grey', ls=':', lw=0.8, alpha=0.8, zorder=1)
        ax.text(t0 + 2, 0.975, f'R{r}', transform=trans, ha='left', va='top', fontsize=8, color='#666666')


def prob_panel(ax, solid, dotted, name):
    for lab, col, s, d in zip(thresholds, line_colors, solid, dotted):
        ax.fill_between(fight_time, d, s, color=col, alpha=0.1, linewidth=0)
        sns.lineplot(x=fight_time, y=s, ax=ax, color=col, linewidth=1.3, alpha=0.85,
                     estimator=None, sort=False, label=lab)
        sns.lineplot(x=fight_time, y=d, ax=ax, color=col, linewidth=1.0, linestyle=':', alpha=0.7,
                     estimator=None, sort=False)
    mark_rounds(ax)
    ax.set_ylim(0, 1.15)
    ax.set_yticks(np.arange(0, 1.151, 0.05))
    ax.yaxis.set_major_formatter(plt.FormatStrFormatter('%.2f'))
    ax.grid(True, axis='y', alpha=0.3)
    ax.set_ylabel('Prob', fontsize=8)
    ax.set_xlabel('')
    ax.tick_params(labelsize=7, labelbottom=False)
    ax.set_title(f'{name} \u2014 Total Strikes Landed R9 Over Leadup (R7-R9) (Event 16292)', fontsize=10)
    ax.legend(loc='upper right', ncol=4, fontsize=6)


fig = plt.figure(figsize=(14, 10), dpi=150)
ax1 = fig.add_axes([0.045, 0.655, 0.944, 0.309])
ax2 = fig.add_axes([0.045, 0.303, 0.944, 0.311], sharex=ax1)
ax3 = fig.add_axes([0.045, 0.055, 0.944, 0.208], sharex=ax1)

prob_panel(ax1, riley_solid, riley_dotted, 'VIDDAL RILEY')
prob_panel(ax2, mast_solid, mast_dotted, 'MATEUSZ MASTERNAK')

# bottom: running totals vs predicted final count
ax3.fill_between(fight_time, riley_low, riley_high, color='red', alpha=0.13)
ax3.fill_between(fight_time, mast_low, mast_high, color='blue', alpha=0.13)
sns.lineplot(x=fight_time, y=riley_truth, ax=ax3, color='red', linewidth=1.8, alpha=0.75,
             estimator=None, sort=False, label='Truth VIDDAL RILEY: 15')
sns.lineplot(x=fight_time, y=mast_truth, ax=ax3, color='blue', linewidth=1.8, alpha=0.75,
             estimator=None, sort=False, label='Truth MATEUSZ MASTERNAK: 2')
sns.lineplot(x=fight_time, y=riley_pred, ax=ax3, color='red', linewidth=1.8, linestyle=':', alpha=0.6,
             estimator=None, sort=False, label='Predicted VIDDAL RILEY: 17.5')
sns.lineplot(x=fight_time, y=mast_pred, ax=ax3, color='blue', linewidth=1.8, linestyle=':', alpha=0.6,
             estimator=None, sort=False, label='Predicted MATEUSZ MASTERNAK: 8.4')
mark_rounds(ax3)
ax3.set_ylim(-1.5, 32)
ax3.grid(True, axis='y', alpha=0.3)
ax3.set_ylabel('Count', fontsize=8)
ax3.set_xlabel('Fight time (seconds)', fontsize=10)
ax3.tick_params(labelsize=7)
ax3.legend(loc='upper left', fontsize=7)

fig.savefig('out.png', dpi=150)
